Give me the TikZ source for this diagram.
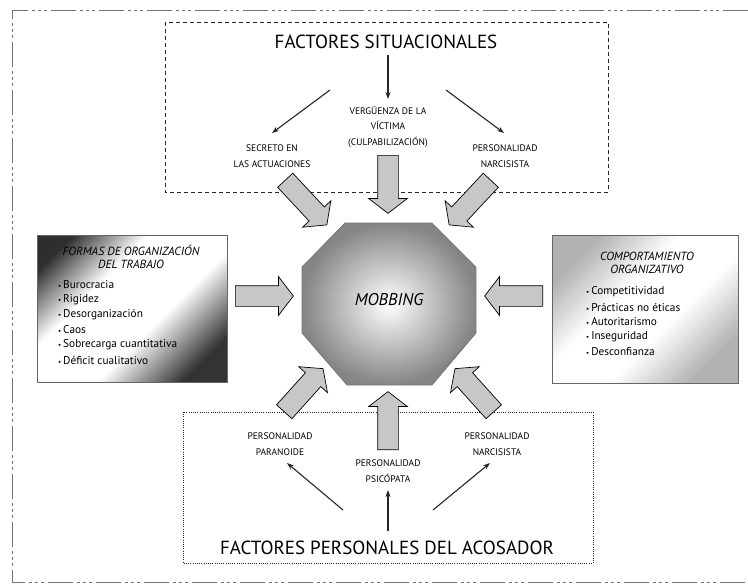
\documentclass[tikz,border=0pt]{standalone}
\usepackage{fontspec}
\setmainfont{PT Sans}
\usetikzlibrary{shapes.arrows,arrows.meta}
\pgfdeclarehorizontalshading{leftboxshade}{100bp}{color(0bp)=(black!82); color(22bp)=(black!82); color(38bp)=(white); color(58bp)=(white); color(76bp)=(black!80); color(100bp)=(black!80)}
\pgfdeclarehorizontalshading{rightboxshade}{100bp}{color(0bp)=(black!30); color(25bp)=(black!30); color(42bp)=(white); color(58bp)=(white); color(75bp)=(black!30); color(100bp)=(black!30)}
\begin{document}
\begin{tikzpicture}[x=1pt,y=-1pt,
  lbl/.style={align=center,inner sep=0pt,font=\fontsize{9.5}{15.5}\selectfont},
  bigtitle/.style={inner sep=0pt,font=\fontsize{19}{22}\selectfont},
  boxtitle/.style={align=center,inner sep=0pt,font=\fontsize{11.8}{13}\selectfont\itshape},
  item/.style={anchor=west,inner sep=0pt,font=\fontsize{11.3}{13}\selectfont},
  thinarrow/.style={-{Stealth[length=7pt,width=5pt]},line width=1.1pt,draw=black!85},
  barrow/.style={single arrow,draw=black,fill=black!22,line width=0.7pt,
    minimum width=0pt,single arrow head extend=9pt,single arrow tip angle=105,
    inner xsep=0pt,inner ysep=10pt,minimum height=58pt,anchor=tail}]
\useasboundingbox (0,0) rectangle (748,584);
% outer frame
\draw[black!55,line width=0.9pt,dash pattern=on 25pt off 4pt on 3pt off 3pt on 3pt off 3pt on 3pt off 4pt]
  (748,10) -- (12,10) -- (12,582) -- (748,582);
% top dashed box
\draw[black!85,line width=1pt,dash pattern=on 4pt off 3pt] (165,22) rectangle (608,192);
% bottom dotted box
\draw[black!85,line width=0.9pt,dash pattern=on 1pt off 1.2pt] (183,412) rectangle (593,563);
% left box
\shade[shading=leftboxshade,shading angle=-45] (37,235) rectangle (227,382);
\draw[black!60,line width=0.8pt] (37,235) rectangle (227,382);
% right box
\shade[shading=rightboxshade,shading angle=-45] (552,235) rectangle (738,383);
\draw[black!60,line width=0.8pt] (552,235) rectangle (738,383);
% octagon
\shade[inner color=white,outer color=black!48,draw=black!55,line width=0.7pt]
  (345,223) -- (432,223) -- (476,267) -- (476,333) -- (432,385) -- (347,385) -- (302,333) -- (302,267) -- cycle;
\node[inner sep=0pt,font=\fontsize{17}{20}\selectfont\itshape] (mob) at (389,300) {MOBBING};
% top texts
\node[bigtitle] (fs) at (386,42) {FACTORES SITUACIONALES};
\node[lbl] (verg) at (388,127) {VERGÜENZA DE LA\\VÍCTIMA\\(CULPABILIZACIÓN)};
\node[lbl] (secr) at (272,156) {SECRETO EN\\LAS ACTUACIONES};
\node[lbl] (narc1) at (505,156) {PERSONALIDAD\\NARCISISTA};
\coordinate (ts1) at (330,90); \coordinate (te1) at (272,133);
\coordinate (ts2) at (388,55); \coordinate (te2) at (388,99);
\coordinate (ts3) at (446,90); \coordinate (te3) at (504,133);
\draw[thinarrow] (ts1) -- (te1);
\draw[thinarrow] (ts2) -- (te2);
\draw[thinarrow] (ts3) -- (te3);
% bottom texts
\node[bigtitle] (fp) at (387,548) {FACTORES PERSONALES DEL ACOSADOR};
\node[lbl] (para) at (280,444) {PERSONALIDAD\\PARANOIDE};
\node[lbl] (psic) at (388,471) {PERSONALIDAD\\PSICÓPATA};
\node[lbl] (narc2) at (497,444) {PERSONALIDAD\\NARCISISTA};
\coordinate (bs1) at (343,510); \coordinate (be1) at (287,463);
\coordinate (bs2) at (388,531); \coordinate (be2) at (388,490);
\coordinate (bs3) at (433,510); \coordinate (be3) at (490,463);
\draw[thinarrow] (bs1) -- (be1);
\draw[thinarrow] (bs2) -- (be2);
\draw[thinarrow] (bs3) -- (be3);
% block arrows
\node[barrow,rotate=-90] (a1) at (388,155) {};
\node[barrow,rotate=-47,minimum height=61pt] (a2) at (285,180) {};
\node[barrow,rotate=-133,minimum height=61pt] (a3) at (491,180) {};
\node[barrow,rotate=0] (a4) at (235,296) {};
\node[barrow,rotate=180] (a5) at (543,296) {};
\node[barrow,rotate=48] (a6) at (284,412) {};
\node[barrow,rotate=132] (a7) at (494,412) {};
\node[barrow,rotate=90] (a8) at (388,450) {};
% left box text
\node[boxtitle] (lt) at (131,257) {FORMAS DE ORGANIZACIÓN\\DEL TRABAJO};
\foreach \t [count=\i] in {Burocracia,Rigidez,Desorganización,Caos,Sobrecarga cuantitativa,Déficit cualitativo}
  \node[item] (li\i) at (58,{285+15*(\i-1)}) {{\scriptsize•}\,\t};
% right box text
\node[boxtitle] (rt) at (647,263) {COMPORTAMIENTO\\ORGANIZATIVO};
\foreach \t [count=\i] in {Competitividad,Prácticas no éticas,Autoritarismo,Inseguridad,Desconfianza}
  \node[item] (ri\i) at (586,{292+15*(\i-1)}) {{\scriptsize•}\,\t};
\end{tikzpicture}
\end{document}
